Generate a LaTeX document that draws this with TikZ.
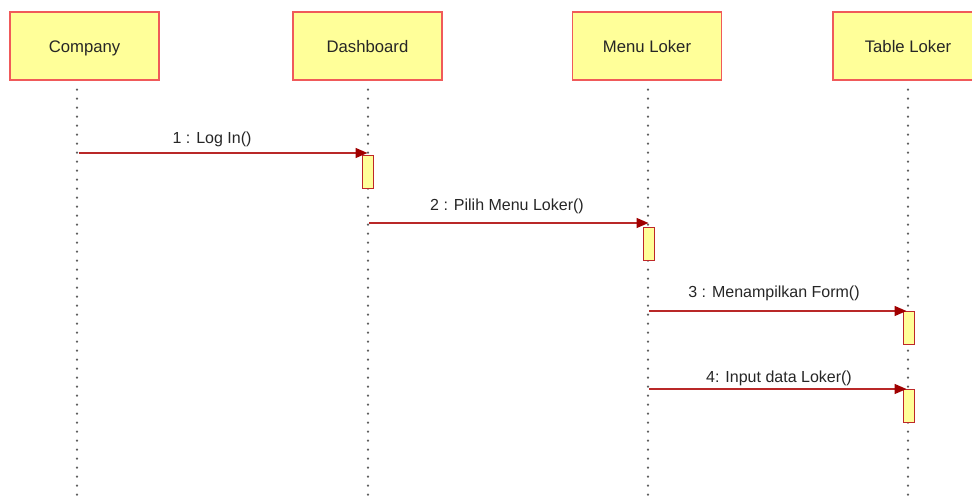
\documentclass[tikz,border=0pt]{standalone}
\usepackage{fontspec}
\setmainfont{Liberation Sans}
\usetikzlibrary{arrows.meta}
\definecolor{boxfill}{RGB}{255,255,153}
\definecolor{boxline}{RGB}{240,90,90}
\definecolor{actline}{RGB}{190,40,40}
\definecolor{msgline}{RGB}{185,40,40}
\definecolor{tipcol}{RGB}{160,0,0}
\definecolor{lifecol}{RGB}{95,95,95}
\tikzset{
  objbox/.style={draw=boxline, fill=boxfill, line width=1.3pt, minimum width=149pt,
    minimum height=68pt, inner sep=0pt, text height=14pt, text depth=0pt,
    font=\fontsize{16.7}{18}\selectfont, text=black!85},
  actbox/.style={draw=actline, fill=boxfill, line width=1pt, minimum width=11pt,
    minimum height=33pt, inner sep=0pt, anchor=north},
  lifeline/.style={lifecol, line width=2.4pt, dash pattern=on 0pt off 9pt, line cap=round},
  msg/.style={msgline, line width=1.5pt, -{Triangle[length=12pt,width=10pt,color=tipcol]}},
  msglabel/.style={font=\fontsize{16}{18}\selectfont, text=black!85, inner sep=0pt, anchor=base}
}
\begin{document}
\begin{tikzpicture}[x=1pt,y=-1pt]
\useasboundingbox (0,0) rectangle (972,500);
% participants
\node[objbox] (company) at (84.5,46) {Company};
\node[objbox] (dash) at (367.5,46) {Dashboard};
\node[objbox] (menu) at (647,46) {Menu Loker};
\node[objbox, minimum width=150pt] (table) at (908,46) {Table Loker};
% lifeline ends
\coordinate (e1) at (77,496);
\coordinate (e2) at (368,496);
\coordinate (e3) at (648,496);
\coordinate (e4) at (908,496);
\draw[lifeline] (company.south -| e1) ++(0,9) -- (e1);
\draw[lifeline] (dash.south -| e2) ++(0,9) -- (e2);
\draw[lifeline] (menu.south -| e3) ++(0,9) -- (e3);
\draw[lifeline] (table.south -| e4) ++(0,9) -- (e4);
% activations
\node[actbox] (a1) at (367.5,155) {};
\node[actbox] (a2) at (648.5,227) {};
\node[actbox] (a3) at (908.5,311) {};
\node[actbox] (a4) at (908.5,389) {};
% messages
\coordinate (s1) at (79,153);
\coordinate (s2) at (369,223);
\coordinate (s3) at (649,311);
\coordinate (s4) at (649,389);
\draw[msg] (s1) -- (s1 -| a1.north);
\draw[msg] (s2) -- (s2 -| a2.north);
\draw[msg] (s3) -- ([xshift=-2pt]s3 -| a3.north);
\draw[msg] (s4) -- ([xshift=-2pt]s4 -| a4.north);
\node[msglabel] (l1) at (212,144) {1 : Log In()};
\node[msglabel] (l2) at (507,211) {2 : Pilih Menu Loker()};
\node[msglabel] (l3) at (774,297) {3 : Menampilkan Form()};
\node[msglabel] (l4) at (779,382) {4: Input data Loker()};
\end{tikzpicture}
\end{document}
